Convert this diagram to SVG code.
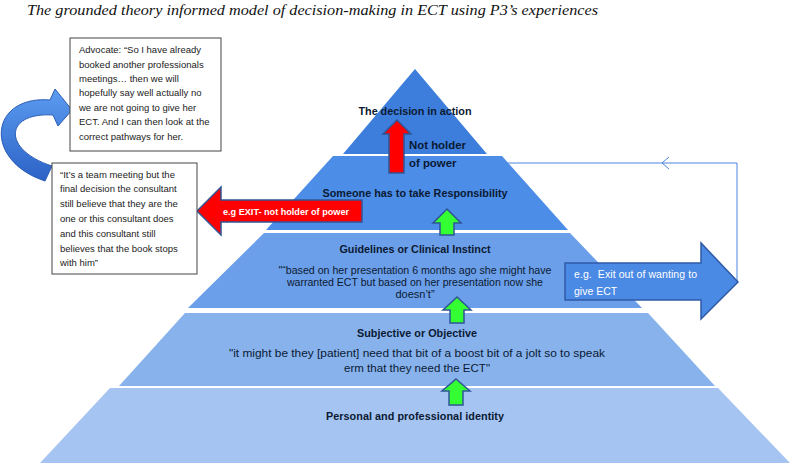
<svg xmlns="http://www.w3.org/2000/svg" width="794" height="466" viewBox="0 0 794 466">
<style>
.title{font-family:"Liberation Serif","Times New Roman",serif;font-style:italic;font-size:14.5px;fill:#111}
.h{font-family:"Liberation Sans",Arial,sans-serif;font-weight:bold;font-size:10.8px;fill:#0b1a33;text-anchor:middle}
.q{font-family:"Liberation Sans",Arial,sans-serif;font-size:11px;fill:#0b1a33;text-anchor:middle}
.bx{font-family:"Liberation Sans",Arial,sans-serif;font-size:9.5px;fill:#222}
.box{fill:#fff;stroke:#444;stroke-width:1}
.green{fill:#33ff33;stroke:#2f5597;stroke-width:1.5}
.red{fill:#ff0000;stroke:#2f5597;stroke-width:1.5}
.wt{font-family:"Liberation Sans",Arial,sans-serif;fill:#fff}
.conn{fill:none;stroke:#4a86e0;stroke-width:1}
</style>
<defs>
<linearGradient id="cg" x1="0" y1="0" x2="0" y2="1">
<stop offset="0" stop-color="#5b9cf0"/>
<stop offset="1" stop-color="#2c62c6"/>
</linearGradient>
<marker id="chev" markerWidth="10" markerHeight="14" refX="8" refY="7" orient="auto" markerUnits="userSpaceOnUse">
<path d="M1,1 L8,7 L1,13" fill="none" stroke="#4a86e0" stroke-width="1"/>
</marker>
</defs>
<rect width="794" height="466" fill="#fff"/>
<text class="title" x="27" y="15" textLength="571" lengthAdjust="spacingAndGlyphs">The grounded theory informed model of decision-making in ECT using P3’s experiences</text>

<g id="band5">
<polygon points="110,388 718,388 790,463 40,463" fill="#a5c4f2"/>
<text class="h" x="415" y="420" textLength="178">Personal and professional identity</text>
</g>
<g id="band4">
<polygon points="185,313 648,313 715,386 119,386" fill="#87b2ec"/>
<text class="h" x="417" y="337" textLength="120">Subjective or Objective</text>
<text class="q" x="417" y="357" textLength="376" lengthAdjust="spacingAndGlyphs">"it might be they [patient] need that bit of a boost bit of a jolt so to speak</text>
<text class="q" x="417" y="372" textLength="146" lengthAdjust="spacingAndGlyphs">erm that they need the ECT"</text>
</g>
<g id="band3">
<polygon points="264,233 570,233 642,308 188,308" fill="#6c9fe9"/>
<text class="h" x="415" y="253" textLength="151">Guidelines or Clinical Instinct</text>
<text class="q" x="415" y="274" textLength="273" lengthAdjust="spacingAndGlyphs">"“based on her presentation 6 months ago she might have</text>
<text class="q" x="415" y="286" textLength="256" lengthAdjust="spacingAndGlyphs">warranted ECT but based on her presentation now she</text>
<text class="q" x="415" y="298">doesn’t”</text>
</g>
<g id="band2">
<polygon points="333,156 502,156 568,230 266,230" fill="#4c8de7"/>
<text class="h" x="415" y="197" textLength="185">Someone has to take Responsibility</text>
</g>
<g id="band1">
<polygon points="415,69 487,154 343,154" fill="#3d7edc"/>
<text class="h" x="415" y="115" textLength="113">The decision in action</text>
</g>

<g id="connectors">
<path class="conn" d="M737,282 V163 H662" marker-end="url(#chev)"/>
<path class="conn" d="M662,163 H506"/>
<path d="M45,181 C-18,160 -10,95 50,100 L55,89 L72,110 L58,126 L53,115 C4,112 2,150 52,166 Z" fill="url(#cg)" stroke="#2a5cb5" stroke-width="1"/>
<path id="upRed" class="red" d="M397,120 L411,134 L404,134 L404,173 L389,173 L389,134 L383,134 Z"/>
<path id="g1" class="green" d="M447,209 L461,223 L454,223 L454,235 L440,235 L440,223 L433,223 Z"/>
<path id="g2" class="green" d="M457,297 L471,310 L464,310 L464,323 L450,323 L450,310 L443,310 Z"/>
<path id="g3" class="green" d="M456,379 L470,391 L463,391 L463,405 L449,405 L449,391 L442,391 Z"/>
</g>

<g id="notHolder">
<text class="h" x="409" y="149" style="text-anchor:start;font-size:11.4px">Not holder</text>
<text class="h" x="409" y="167" style="text-anchor:start;font-size:11.4px">of power</text>
</g>

<g id="exitLeft">
<path class="red" d="M197,211 L221,187 L221,200 L362,200 L362,222 L221,222 L221,235 Z"/>
<text class="wt" x="223" y="215" font-size="9.1" font-weight="bold" textLength="126">e.g EXIT- not holder of power</text>
</g>

<g id="exitRight">
<path d="M565,263 L701,263 L701,243 L738,282 L701,319 L701,300 L565,300 Z" fill="#4a89e4" stroke="#2f5aa8" stroke-width="1.5"/>
<text class="wt" x="574" y="278" font-size="10.5" fill="#e6eefc" textLength="123">e.g.&#160; Exit out of wanting to</text>
<text class="wt" x="574" y="295" font-size="10.5" fill="#e6eefc">give ECT</text>
</g>

<g id="advocateBox">
<rect class="box" x="70" y="38" width="151" height="113"/>
<text class="bx" x="79" y="53">Advocate: “So I have already</text>
<text class="bx" x="79" y="68">booked another professionals</text>
<text class="bx" x="79" y="82">meetings… then we will</text>
<text class="bx" x="79" y="96">hopefully say well actually no</text>
<text class="bx" x="79" y="111">we are not going to give her</text>
<text class="bx" x="79" y="125">ECT. And I can then look at the</text>
<text class="bx" x="79" y="139.5">correct pathways for her.</text>
</g>

<g id="teamBox">
<rect class="box" x="52" y="163" width="145" height="111"/>
<text class="bx" x="60" y="177.5">“It’s a team meeting but the</text>
<text class="bx" x="60" y="192">final decision the consultant</text>
<text class="bx" x="60" y="207">still believe that they are the</text>
<text class="bx" x="60" y="222">one or this consultant does</text>
<text class="bx" x="60" y="237">and this consultant still</text>
<text class="bx" x="60" y="252">believes that the book stops</text>
<text class="bx" x="60" y="266">with him”</text>
</g>
</svg>
